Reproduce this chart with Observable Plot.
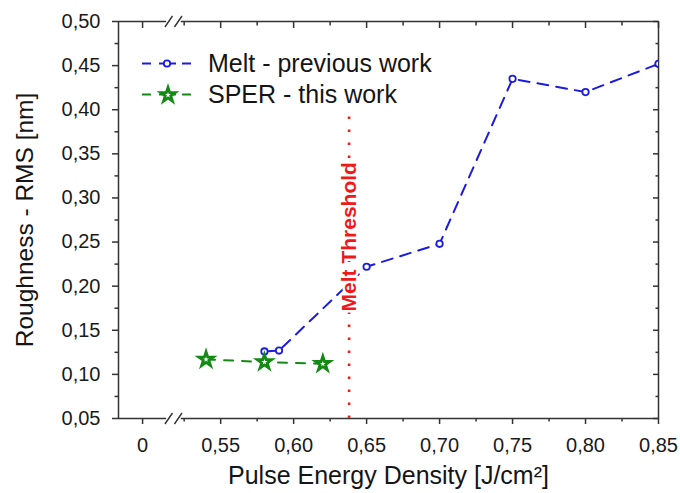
<!DOCTYPE html>
<html><head><meta charset="utf-8">
<script src="https://cdn.jsdelivr.net/npm/d3@7"></script>
<script src="https://cdn.jsdelivr.net/npm/@observablehq/plot@0.6"></script>
<style>
body{margin:0;background:#fff;}
#wrap{position:relative;width:680px;height:493px;font-family:"Liberation Sans",Arial,sans-serif;}
#legend{position:absolute;left:140px;top:48px;font-size:25px;color:#151515;}
.row{display:flex;align-items:center;height:31px;white-space:nowrap;}
.row svg{margin-right:16px;}
</style></head><body><div id="wrap"><div id="legend"></div></div>
<script>
// ---- data ----
const meltX = [0.58, 0.59, 0.65, 0.70, 0.75, 0.80, 0.85, 0.86];
const meltY = [0.126, 0.127, 0.222, 0.248, 0.435, 0.420, 0.452, 0.68];
const sperX = [0.54, 0.58, 0.62];
const sperY = [0.117, 0.114, 0.112];
const seriesNames = ["Melt - previous work", "SPER - this work"];
const thresholdX = 0.638;
const thresholdSpan = [0.05, 0.40];
const thresholdLabel = "Melt Threshold";
const thresholdLabelY = 0.256;
const xDomain = [0.48, 0.85];
const yDomain = [0.05, 0.50];
// the "0" tick sits left of the axis break
const xTicks = [0.4965, 0.55, 0.60, 0.65, 0.70, 0.75, 0.80, 0.85];
const xTickLabels = ["0", "0,55", "0,60", "0,65", "0,70", "0,75", "0,80", "0,85"];
const xMinorTicks = [0.525, 0.575, 0.625, 0.675, 0.725, 0.775, 0.825];
const yTicks = [0.05, 0.10, 0.15, 0.20, 0.25, 0.30, 0.35, 0.40, 0.45, 0.50];
const yTickLabels = ["0,05", "0,10", "0,15", "0,20", "0,25", "0,30", "0,35", "0,40", "0,45", "0,50"];
const yMinorTicks = [0.075, 0.125, 0.175, 0.225, 0.275, 0.325, 0.375, 0.425, 0.475];
const breakGap = [0.513, 0.523];
const breakAt = 0.518;
const xLabel = "Pulse Energy Density [J/cm²]";
const yLabel = "Roughness - RMS [nm]";

// ---- styles ----
const BLUE = "#1c1ce0", GREEN = "#138a13", RED = "#f01818", AX = "#333";

const melt = meltX.map((x, i) => ({x, y: meltY[i]}));
const sper = sperX.map((x, i) => ({x, y: sperY[i]}));
const breaks = [{x: breakAt, y: yDomain[0]}, {x: breakAt, y: yDomain[1]}];

const slashSymbol = {
  draw(ctx) {
    ctx.moveTo(-9, 5.5); ctx.lineTo(-1.5, -5.5);
    ctx.moveTo(0.5, 5.5); ctx.lineTo(8, -5.5);
  }
};
const fmtX = d => xTickLabels[xTicks.indexOf(d)];
const fmtY = d => yTickLabels[yTicks.indexOf(d)];
const blank = () => "";

const chart = Plot.plot({
  width: 680, height: 493,
  marginLeft: 118, marginRight: 22, marginTop: 21, marginBottom: 75,
  x: {domain: xDomain},
  y: {domain: yDomain},
  style: {fontFamily: "'Liberation Sans', Arial, sans-serif", fontSize: "20px", color: "#1a1a1a", background: "#fff"},
  marks: [
    // frame with broken top/bottom
    Plot.ruleX(xDomain, {stroke: AX, strokeWidth: 1.5}),
    Plot.ruleY(yDomain, {x1: xDomain[0], x2: breakGap[0], stroke: AX, strokeWidth: 1.5}),
    Plot.ruleY(yDomain, {x1: breakGap[1], x2: xDomain[1], stroke: AX, strokeWidth: 1.5}),
    Plot.dot(breaks, {x: "x", y: "y", symbol: slashSymbol, r: 6, stroke: AX, strokeWidth: 1.4, fill: "none"}),
    // axes
    Plot.axisX({anchor: "bottom", ticks: xTicks, tickFormat: fmtX, tickSize: 6, tickPadding: 13, fontSize: 20, stroke: AX, strokeWidth: 1.5, label: null}),
    Plot.axisX({anchor: "bottom", ticks: xMinorTicks, tickFormat: blank, tickSize: 3.5, stroke: AX, strokeWidth: 1.5, label: null}),
    Plot.axisX({anchor: "top", ticks: xTicks, tickFormat: blank, tickSize: -6, stroke: AX, strokeWidth: 1.5, label: null}),
    Plot.axisX({anchor: "top", ticks: xMinorTicks, tickFormat: blank, tickSize: -3.5, stroke: AX, strokeWidth: 1.5, label: null}),
    Plot.axisY({anchor: "left", ticks: yTicks, tickFormat: fmtY, tickSize: 6, tickPadding: 12, fontSize: 20, stroke: AX, strokeWidth: 1.5, label: null}),
    Plot.axisY({anchor: "left", ticks: yMinorTicks, tickFormat: blank, tickSize: 3.5, stroke: AX, strokeWidth: 1.5, label: null}),
    Plot.axisY({anchor: "right", ticks: yTicks, tickFormat: blank, tickSize: -6, stroke: AX, strokeWidth: 1.5, label: null}),
    Plot.axisY({anchor: "right", ticks: yMinorTicks, tickFormat: blank, tickSize: -3.5, stroke: AX, strokeWidth: 1.5, label: null}),
    // axis titles
    Plot.text([xLabel], {frameAnchor: "bottom", textAnchor: "middle", lineAnchor: "middle", dy: 57, fontSize: 25, fill: "#151515"}),
    Plot.text([yLabel], {frameAnchor: "left", textAnchor: "middle", lineAnchor: "middle", dx: -93, rotate: -90, fontSize: 24.5, fill: "#151515"}),
    // series
    Plot.line(melt, {x: "x", y: "y", stroke: BLUE, strokeWidth: 2, strokeDasharray: "11,8", clip: true}),
    Plot.line(sper, {x: "x", y: "y", stroke: GREEN, strokeWidth: 2, strokeDasharray: "9,9", clip: true}),
    Plot.dot(melt, {x: "x", y: "y", r: 3.2, stroke: BLUE, strokeWidth: 1.8, fill: "white", clip: true}),
    Plot.dot(sper, {x: "x", y: "y", symbol: "star", r: 4.5, stroke: GREEN, strokeWidth: 2.8, fill: "white", clip: true}),
    // melt threshold
    Plot.ruleX([thresholdX], {y1: thresholdSpan[0], y2: thresholdSpan[1], stroke: RED, strokeWidth: 2.6, strokeDasharray: "2.6,10.4"}),
    Plot.text([thresholdLabel], {x: thresholdX, y: thresholdLabelY, rotate: -90, fontSize: 21, fontWeight: "bold", fill: RED, stroke: "white", strokeWidth: 5})
  ]
});
document.getElementById("wrap").prepend(chart);

// ---- legend ----
const legend = document.getElementById("legend");
const starPath = d3.symbol(d3.symbolStar, Math.PI * 4.5 * 4.5)();
const specs = [
  {color: BLUE, sym: `<circle cx="27" cy="15.5" r="3.2" fill="white" stroke="${BLUE}" stroke-width="1.8"/>`},
  {color: GREEN, sym: `<path d="${starPath}" transform="translate(28,16)" fill="white" stroke="${GREEN}" stroke-width="2.8"/>`}
];
specs.forEach((s, i) => {
  const row = document.createElement("div");
  row.className = "row";
  row.innerHTML = `<svg width="52" height="31">
    <line x1="2" x2="11" y1="15.5" y2="15.5" stroke="${s.color}" stroke-width="2"/>
    <line x1="19" x2="36" y1="15.5" y2="15.5" stroke="${s.color}" stroke-width="2"/>
    <line x1="42" x2="51" y1="15.5" y2="15.5" stroke="${s.color}" stroke-width="2"/>
    ${s.sym}</svg><span>${seriesNames[i]}</span>`;
  legend.appendChild(row);
});
</script>
</body></html>
